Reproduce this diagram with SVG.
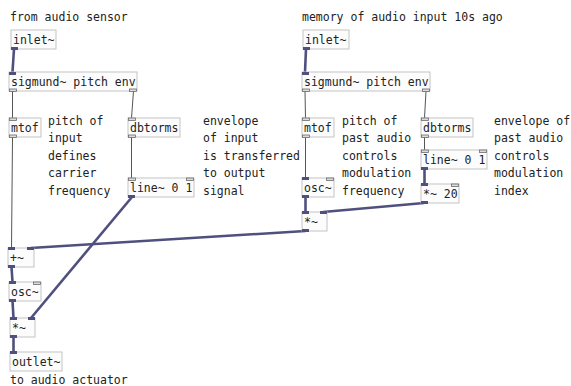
<svg xmlns="http://www.w3.org/2000/svg" width="571" height="386" viewBox="0 0 571 386">
<style>
text{font-family:"DejaVu Sans Mono","Liberation Mono",monospace;font-size:11.5px;fill:#222}
.box{fill:#fcfcfc;stroke:#c4c4c4;stroke-width:1}
.sig{fill:#50507f}
.ctl{fill:#dcdcdc;stroke:#6a6a6a;stroke-width:0.8}
.thin{stroke:#555;stroke-width:1;fill:none}
.thick{stroke:#50507f;stroke-width:2.6;fill:none}
</style>
<rect width="571" height="386" fill="#fff"/>
<g id="connectors">
<line class="thick" x1="14" y1="49" x2="12.5" y2="72"/>
<line class="thin" x1="12.5" y1="91" x2="12.5" y2="118"/>
<line class="thin" x1="133.5" y1="91" x2="131.5" y2="118"/>
<line class="thin" x1="12.5" y1="137" x2="11.5" y2="248"/>
<line class="thin" x1="131.5" y1="137" x2="131.5" y2="178"/>
<line class="thick" x1="132" y1="197" x2="31" y2="318"/>
<line class="thick" x1="11.5" y1="267" x2="12.5" y2="282"/>
<line class="thick" x1="12.5" y1="301" x2="13.5" y2="318"/>
<line class="thick" x1="13.5" y1="337" x2="13.5" y2="352"/>
<line class="thick" x1="306" y1="49" x2="305" y2="72"/>
<line class="thin" x1="305" y1="91" x2="305.5" y2="118"/>
<line class="thin" x1="426" y1="91" x2="424.5" y2="118"/>
<line class="thin" x1="305.5" y1="137" x2="305.5" y2="178"/>
<line class="thin" x1="424.5" y1="137" x2="424.5" y2="150"/>
<line class="thick" x1="424.5" y1="169" x2="424.5" y2="184"/>
<line class="thick" x1="305.5" y1="197" x2="305.5" y2="212"/>
<line class="thick" x1="424" y1="203" x2="323" y2="212"/>
<line class="thick" x1="305.5" y1="231" x2="30.5" y2="248"/>
</g>
<g id="c1"><text x="10" y="21">from audio sensor</text></g>
<g id="c2"><text x="302" y="21">memory of audio input 10s ago</text></g>
<g id="c3"><text x="48" y="125">pitch of</text><text x="48" y="142.4">input</text><text x="48" y="159.8">defines</text><text x="48" y="177.2">carrier</text><text x="48" y="194.6">frequency</text></g>
<g id="c4"><text x="203" y="125">envelope</text><text x="203" y="142.4">of input</text><text x="203" y="159.8">is transferred</text><text x="203" y="177.2">to output</text><text x="203" y="194.6">signal</text></g>
<g id="c5"><text x="342" y="125">pitch of</text><text x="342" y="142.4">past audio</text><text x="342" y="159.8">controls</text><text x="342" y="177.2">modulation</text><text x="342" y="194.6">frequency</text></g>
<g id="c6"><text x="494" y="125">envelope of</text><text x="494" y="142.4">past audio</text><text x="494" y="159.8">controls</text><text x="494" y="177.2">modulation</text><text x="494" y="194.6">index</text></g>
<g id="c7"><text x="10" y="384">to audio actuator</text></g>

<g id="inletL"><rect class="box" x="11" y="30" width="45" height="19"/><text x="13" y="44">inlet~</text><rect class="sig" x="11" y="47" width="7" height="3"/></g>
<g id="sigmundL"><rect class="box" x="9" y="72" width="128" height="19"/><text x="11" y="86">sigmund~ pitch env</text><rect class="sig" x="9" y="72" width="7" height="3"/><rect class="ctl" x="9.5" y="89" width="7" height="2.5"/><rect class="ctl" x="129.5" y="89" width="7" height="2.5"/></g>
<g id="mtofL"><rect class="box" x="9" y="118" width="32" height="19"/><text x="11" y="132">mtof</text><rect class="ctl" x="9.5" y="118" width="7" height="2.5"/><rect class="ctl" x="9.5" y="135" width="7" height="2.5"/></g>
<g id="dbtormsL"><rect class="box" x="128" y="118" width="52" height="19"/><text x="130" y="132">dbtorms</text><rect class="ctl" x="128.5" y="118" width="7" height="2.5"/><rect class="ctl" x="128.5" y="135" width="7" height="2.5"/></g>
<g id="lineL"><rect class="box" x="128" y="178" width="66" height="19"/><text x="130" y="192">line~ 0 1</text><rect class="ctl" x="128.5" y="178" width="7" height="2.5"/><rect class="ctl" x="186.5" y="178" width="7" height="2.5"/><rect class="sig" x="128" y="195" width="7" height="3"/></g>
<g id="plus"><rect class="box" x="8" y="248" width="26" height="19"/><text x="10" y="262">+~</text><rect class="sig" x="8" y="247" width="7" height="3"/><rect class="sig" x="27" y="247" width="7" height="3"/><rect class="sig" x="8" y="265" width="7" height="3"/></g>
<g id="oscL"><rect class="box" x="9" y="282" width="32" height="19"/><text x="11" y="296">osc~</text><rect class="sig" x="9" y="281" width="7" height="3"/><rect class="ctl" x="33.5" y="282" width="7" height="2.5"/><rect class="sig" x="9" y="299" width="7" height="3"/></g>
<g id="mulL"><rect class="box" x="10" y="318" width="25" height="19"/><text x="12" y="332">*~</text><rect class="sig" x="10" y="317" width="7" height="3"/><rect class="sig" x="28" y="317" width="7" height="3"/><rect class="sig" x="10" y="335" width="7" height="3"/></g>
<g id="outlet"><rect class="box" x="10" y="352" width="52" height="19"/><text x="12" y="366">outlet~</text><rect class="sig" x="10" y="351" width="7" height="3"/></g>

<g id="inletR"><rect class="box" x="303" y="30" width="46" height="19"/><text x="305" y="44">inlet~</text><rect class="sig" x="303" y="47" width="7" height="3"/></g>
<g id="sigmundR"><rect class="box" x="302" y="72" width="128" height="19"/><text x="304" y="86">sigmund~ pitch env</text><rect class="sig" x="302" y="72" width="7" height="3"/><rect class="ctl" x="302.5" y="89" width="7" height="2.5"/><rect class="ctl" x="422.5" y="89" width="7" height="2.5"/></g>
<g id="mtofR"><rect class="box" x="302" y="118" width="32" height="19"/><text x="304" y="132">mtof</text><rect class="ctl" x="302.5" y="118" width="7" height="2.5"/><rect class="ctl" x="302.5" y="135" width="7" height="2.5"/></g>
<g id="dbtormsR"><rect class="box" x="421" y="118" width="52" height="19"/><text x="423" y="132">dbtorms</text><rect class="ctl" x="421.5" y="118" width="7" height="2.5"/><rect class="ctl" x="421.5" y="135" width="7" height="2.5"/></g>
<g id="lineR"><rect class="box" x="421" y="150" width="66" height="19"/><text x="423" y="164">line~ 0 1</text><rect class="ctl" x="421.5" y="150" width="7" height="2.5"/><rect class="ctl" x="479.5" y="150" width="7" height="2.5"/><rect class="sig" x="421" y="167" width="7" height="3"/></g>
<g id="oscR"><rect class="box" x="302" y="178" width="32" height="19"/><text x="304" y="192">osc~</text><rect class="sig" x="302" y="177" width="7" height="3"/><rect class="ctl" x="326.5" y="178" width="7" height="2.5"/><rect class="sig" x="302" y="195" width="7" height="3"/></g>
<g id="mul20"><rect class="box" x="421" y="184" width="38" height="19"/><text x="423" y="198">*~ 20</text><rect class="sig" x="421" y="183" width="7" height="3"/><rect class="ctl" x="451.5" y="184" width="7" height="2.5"/><rect class="sig" x="421" y="201" width="7" height="3"/></g>
<g id="mulR"><rect class="box" x="302" y="212" width="25" height="19"/><text x="304" y="226">*~</text><rect class="sig" x="302" y="211" width="7" height="3"/><rect class="sig" x="320" y="211" width="7" height="3"/><rect class="sig" x="302" y="229" width="7" height="3"/></g>
</svg>
